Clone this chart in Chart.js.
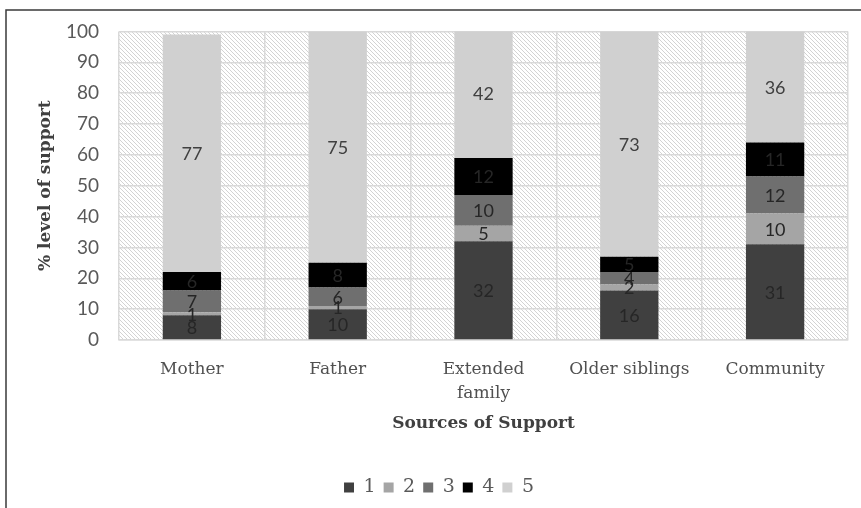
<!DOCTYPE html>
<html>
<head>
<meta charset="utf-8">
<script src="https://cdn.jsdelivr.net/npm/chart.js@4"></script>
<style>
  html, body { margin: 0; padding: 0; background: #ffffff; }
  #wrap { width: 861px; height: 508px; position: relative; }
</style>
</head>
<body>
<div id="wrap"><canvas id="chart"></canvas></div>
<script>
// Sources of support and the share (%) of each support level
const categories = ['Mother', 'Father', ['Extended', 'family'], 'Older siblings', 'Community'];
const level1 = [8, 10, 32, 16, 31];
const level2 = [1, 1, 5, 2, 10];
const level3 = [7, 6, 10, 4, 12];
const level4 = [6, 8, 12, 5, 11];
const level5 = [77, 75, 42, 73, 36];
const levelNames = ['1', '2', '3', '4', '5'];
const levelColors = ['#404040', '#a5a5a5', '#6f6f6f', '#000000', '#d0d0d0'];
const yMin = 0, yMax = 100, yStep = 10;

const SERIF = '"DejaVu Serif", "Liberation Serif", serif';
const SANS = 'Lato, "Open Sans", sans-serif';
const TEXT = '#595959';

// diagonal hatch used behind the bars
function makeHatch() {
  const s = 4;
  const c = document.createElement('canvas');
  c.width = s; c.height = s;
  const g = c.getContext('2d');
  g.fillStyle = '#ffffff';
  g.fillRect(0, 0, s, s);
  g.strokeStyle = '#d3d3d3';
  g.lineWidth = 1;
  g.beginPath();
  g.moveTo(-1, -1); g.lineTo(s + 1, s + 1);
  g.moveTo(-1, s - 1); g.lineTo(1, s + 1);
  g.moveTo(s - 1, -1); g.lineTo(s + 1, 1);
  g.stroke();
  return c;
}

const plotBackground = {
  id: 'plotBackground',
  beforeDraw(chart) {
    const {ctx, chartArea: a} = chart;
    ctx.save();
    // outer frame
    ctx.strokeStyle = '#3a3a3a';
    ctx.lineWidth = 1.5;
    ctx.beginPath();
    ctx.moveTo(6, 508);
    ctx.lineTo(6, 10);
    ctx.lineTo(861, 10);
    ctx.stroke();
    // hatched plot area
    ctx.fillStyle = ctx.createPattern(makeHatch(), 'repeat');
    ctx.fillRect(a.left, a.top, a.right - a.left, a.bottom - a.top);
    ctx.restore();
  }
};

const segmentLabels = {
  id: 'segmentLabels',
  afterDatasetsDraw(chart) {
    const {ctx} = chart;
    ctx.save();
    ctx.font = '18px ' + SANS;
    ctx.textAlign = 'center';
    ctx.textBaseline = 'middle';
    chart.data.datasets.forEach((ds, i) => {
      const meta = chart.getDatasetMeta(i);
      ctx.fillStyle = i === 4 ? '#404040' : '#262626';
      meta.data.forEach((bar, j) => {
        const v = ds.data[j];
        ctx.fillText(String(v), bar.x, (bar.y + bar.base) / 2 + 1);
      });
    });
    ctx.restore();
  }
};

const series = [level1, level2, level3, level4, level5];

new Chart(document.getElementById('chart'), {
  type: 'bar',
  data: {
    labels: categories,
    datasets: series.map((vals, i) => ({
      label: levelNames[i],
      data: vals,
      backgroundColor: levelColors[i],
      borderWidth: 0,
      categoryPercentage: 1,
      barPercentage: 0.4
    }))
  },
  options: {
    responsive: true,
    maintainAspectRatio: false,
    animation: false,
    layout: { padding: { left: 30, right: 13, top: 30, bottom: 1 } },
    plugins: {
      legend: {
        position: 'bottom',
        labels: {
          boxWidth: 10,
          boxHeight: 10,
          padding: 8,
          color: TEXT,
          font: { family: SERIF, size: 19 }
        }
      },
      tooltip: { enabled: false }
    },
    scales: {
      x: {
        stacked: true,
        grid: { color: '#d9d9d9', lineWidth: 1.5, drawTicks: false, offset: true },
        border: { color: '#d9d9d9', width: 1.5 },
        ticks: {
          color: '#505050',
          padding: 18,
          maxRotation: 0,
          autoSkip: false,
          font: { family: SERIF, size: 17, lineHeight: 1.4 }
        },
        title: {
          display: true,
          text: 'Sources of Support',
          color: '#404040',
          padding: { top: 0, bottom: 36 },
          font: { family: SERIF, size: 17, weight: 'bold', lineHeight: 1.2 }
        },
        afterFit(scale) { scale.height = 130; }
      },
      y: {
        stacked: true,
        min: yMin,
        max: yMax,
        grid: { color: '#d9d9d9', lineWidth: 1.5, drawTicks: false },
        border: { display: false },
        ticks: {
          stepSize: yStep,
          color: TEXT,
          padding: 20,
          font: { family: SANS, size: 19 }
        },
        title: {
          display: true,
          text: '% level of support',
          color: '#404040',
          padding: { top: 5, bottom: 0 },
          font: { family: SERIF, size: 17, weight: 'bold', lineHeight: 1.2 }
        },
        afterFit(scale) { scale.width = 89; }
      }
    }
  },
  plugins: [plotBackground, segmentLabels]
});
</script>
</body>
</html>
